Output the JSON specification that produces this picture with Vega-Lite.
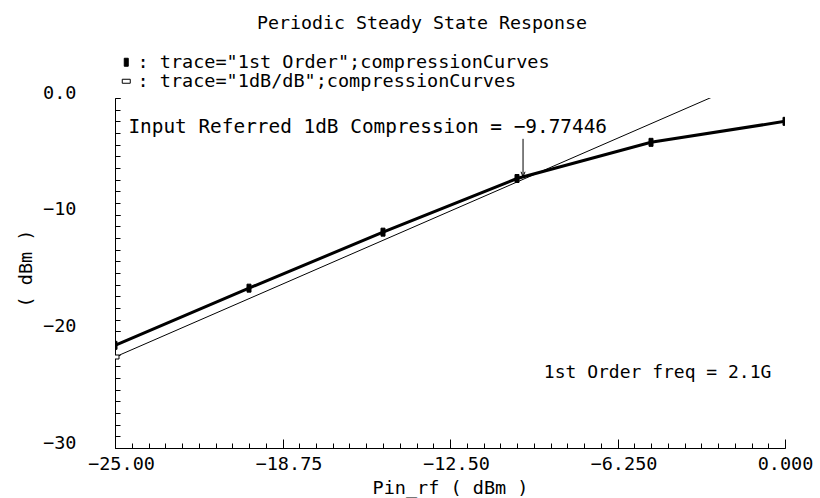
{
  "$schema": "https://vega.github.io/schema/vega-lite/v6.json",
  "width": 670,
  "height": 350,
  "autosize": "none",
  "padding": {"left": 115, "top": 98, "right": 35, "bottom": 50},
  "background": "white",
  "title": {
    "text": "Periodic Steady State Response",
    "anchor": "middle",
    "frame": "group",
    "dx": -28,
    "offset": 20
  },
  "datasets": {
    "curves": [
      {"trace": "1st Order", "pin": -25, "pout": -21.2},
      {"trace": "1st Order", "pin": -20, "pout": -16.3},
      {"trace": "1st Order", "pin": -15, "pout": -11.5},
      {"trace": "1st Order", "pin": -10, "pout": -6.9},
      {"trace": "1st Order", "pin": -5, "pout": -3.8},
      {"trace": "1st Order", "pin": 0, "pout": -2.0},
      {"trace": "1dB/dB", "pin": -25, "pout": -22.2},
      {"trace": "1dB/dB", "pin": 0, "pout": 2.8}
    ],
    "compression": [
      {"pin_1db": -9.77446, "pout_1db": -6.75}
    ],
    "notes": [
      {"note": "1st Order freq = 2.1G"}
    ]
  },
  "layer": [
    {
      "layer": [
        {
          "data": {"name": "curves"},
          "transform": [{"filter": "datum.trace === '1dB/dB'"}],
          "mark": {"type": "line", "color": "black", "strokeWidth": 1, "clip": true},
          "encoding": {
            "x": {
              "field": "pin",
              "type": "quantitative",
              "scale": {"domain": [-25, 0], "nice": false, "zero": false},
              "axis": {
                "orient": "bottom",
                "title": "Pin_rf ( dBm )",
                "values": [-25, -18.75, -12.5, -6.25, 0],
                "labelExpr": "datum.value == 0 ? '0.000' : format(datum.value, '.4r')",
                "labelOverlap": false,
                "labelFlush": false,
                "labelPadding": 15,
                "labelBaseline": "top",
                "labelOffset": {"condition": {"test": "datum.value < 0", "value": 6}, "value": 0},
                "tickSize": -9,
                "titleY": 39,
                "titleBaseline": "middle"
              }
            },
            "y": {
              "field": "pout",
              "type": "quantitative",
              "scale": {"domain": [-30, 0], "nice": false, "zero": false},
              "axis": {
                "orient": "left",
                "title": "( dBm )",
                "values": [-30, -20, -10, 0],
                "labelExpr": "datum.value == 0 ? '0.0' : format(datum.value, '.2r')",
                "labelOverlap": false,
                "labelFlush": false,
                "labelBaseline": "alphabetic",
                "labelPadding": 44,
                "tickSize": -5,
                "titleX": -90,
                "titleY": 170,
                "titleAngle": -90,
                "titleBaseline": "middle"
              }
            }
          }
        },
        {
          "data": {"name": "curves"},
          "transform": [{"filter": "datum.trace === '1st Order'"}],
          "mark": {"type": "line", "color": "black", "strokeWidth": 3, "clip": true},
          "encoding": {
            "x": {"field": "pin", "type": "quantitative"},
            "y": {"field": "pout", "type": "quantitative"}
          }
        },
        {
          "data": {"name": "curves"},
          "mark": {"type": "point", "strokeWidth": 1, "opacity": 1, "size": 64, "clip": true},
          "encoding": {
            "x": {"field": "pin", "type": "quantitative"},
            "y": {"field": "pout", "type": "quantitative"},
            "shape": {
              "field": "trace",
              "type": "nominal",
              "scale": {"domain": ["1st Order", "1dB/dB"], "range": ["M-0.5,-1H0.5V1H-0.5Z", "M-1,-0.5H1V0.5H-1Z"]},
              "legend": {
                "title": null,
                "orient": "none",
                "legendX": 2,
                "legendY": -45,
                "labelLimit": 0,
                "labelExpr": "': trace=\"' + datum.label + '\";compressionCurves'"
              }
            },
            "fill": {
              "field": "trace",
              "type": "nominal",
              "scale": {"domain": ["1st Order", "1dB/dB"], "range": ["black", "white"]},
              "legend": {
                "title": null,
                "orient": "none",
                "legendX": 2,
                "legendY": -45,
                "labelLimit": 0,
                "labelExpr": "': trace=\"' + datum.label + '\";compressionCurves'"
              }
            },
            "stroke": {
              "field": "trace",
              "type": "nominal",
              "scale": {"domain": ["1st Order", "1dB/dB"], "range": ["black", "black"]},
              "legend": {
                "title": null,
                "orient": "none",
                "legendX": 2,
                "legendY": -45,
                "labelLimit": 0,
                "labelExpr": "': trace=\"' + datum.label + '\";compressionCurves'"
              }
            }
          }
        },
        {
          "data": {"name": "compression"},
          "mark": {"type": "rule", "color": "black", "strokeWidth": 1},
          "encoding": {
            "x": {"field": "pin_1db", "type": "quantitative"},
            "y": {"field": "pout_1db", "type": "quantitative"},
            "y2": {"datum": -3.5}
          }
        },
        {
          "data": {"name": "compression"},
          "mark": {"type": "point", "shape": "M-0.4,-1L0,0L0.4,-1", "filled": false, "stroke": "black", "strokeWidth": 1, "opacity": 1, "size": 100},
          "encoding": {
            "x": {"field": "pin_1db", "type": "quantitative"},
            "y": {"field": "pout_1db", "type": "quantitative"}
          }
        },
        {
          "data": {"name": "compression"},
          "transform": [
            {"calculate": "'Input Referred 1dB Compression = ' + format(datum.pin_1db, '.6')", "as": "label"}
          ],
          "mark": {"type": "text", "align": "left", "baseline": "middle", "color": "black", "font": "DejaVu Sans Mono", "fontSize": 19.4},
          "encoding": {
            "x": {"datum": -24.5, "type": "quantitative"},
            "y": {"datum": -2.5, "type": "quantitative"},
            "text": {"field": "label", "type": "nominal"}
          }
        },
        {
          "data": {"name": "notes"},
          "mark": {"type": "text", "align": "left", "baseline": "middle", "color": "black", "font": "DejaVu Sans Mono", "fontSize": 18},
          "encoding": {
            "x": {"datum": -9.0, "type": "quantitative"},
            "y": {"datum": -23.6, "type": "quantitative"},
            "text": {"field": "note", "type": "nominal"}
          }
        }
      ]
    },
    {
      "description": "carrier for the minor tick axes",
      "data": {"name": "curves"},
      "mark": {"type": "point", "opacity": 0},
      "encoding": {
        "x": {
          "field": "pin",
          "type": "quantitative",
          "axis": {
            "orient": "bottom",
            "title": null,
            "labels": false,
            "domain": false,
            "values": [-25, -24.375, -23.75, -23.125, -22.5, -21.875, -21.25, -20.625, -20, -19.375, -18.75, -18.125, -17.5, -16.875, -16.25, -15.625, -15, -14.375, -13.75, -13.125, -12.5, -11.875, -11.25, -10.625, -10, -9.375, -8.75, -8.125, -7.5, -6.875, -6.25, -5.625, -5, -4.375, -3.75, -3.125, -2.5, -1.875, -1.25, -0.625, 0],
            "tickSize": -5
          }
        },
        "y": {
          "field": "pout",
          "type": "quantitative",
          "axis": {
            "orient": "left",
            "title": null,
            "labels": false,
            "domain": false,
            "values": [-30, -29, -28, -27, -26, -25, -24, -23, -22, -21, -20, -19, -18, -17, -16, -15, -14, -13, -12, -11, -10, -9, -8, -7, -6, -5, -4, -3, -2, -1, 0],
            "tickSize": -5
          }
        }
      }
    }
  ],
  "resolve": {"axis": {"x": "independent", "y": "independent"}},
  "config": {
    "view": {"stroke": null},
    "font": "DejaVu Sans Mono",
    "title": {"font": "DejaVu Sans Mono", "fontSize": 18.3, "fontWeight": "normal", "color": "black"},
    "axis": {
      "grid": false,
      "labelOverlap": false,
      "domainColor": "black",
      "domainWidth": 1,
      "tickColor": "black",
      "tickWidth": 1,
      "labelColor": "black",
      "labelFont": "DejaVu Sans Mono",
      "labelFontSize": 18.5,
      "titleColor": "black",
      "titleFont": "DejaVu Sans Mono",
      "titleFontSize": 18.5,
      "titleFontWeight": "normal"
    },
    "legend": {
      "padding": 0,
      "labelFont": "DejaVu Sans Mono",
      "labelFontSize": 18.5,
      "labelColor": "black",
      "labelOffset": 2,
      "labelLimit": 0,
      "rowPadding": 0,
      "symbolSize": 64,
      "symbolStrokeWidth": 1
    }
  }
}
